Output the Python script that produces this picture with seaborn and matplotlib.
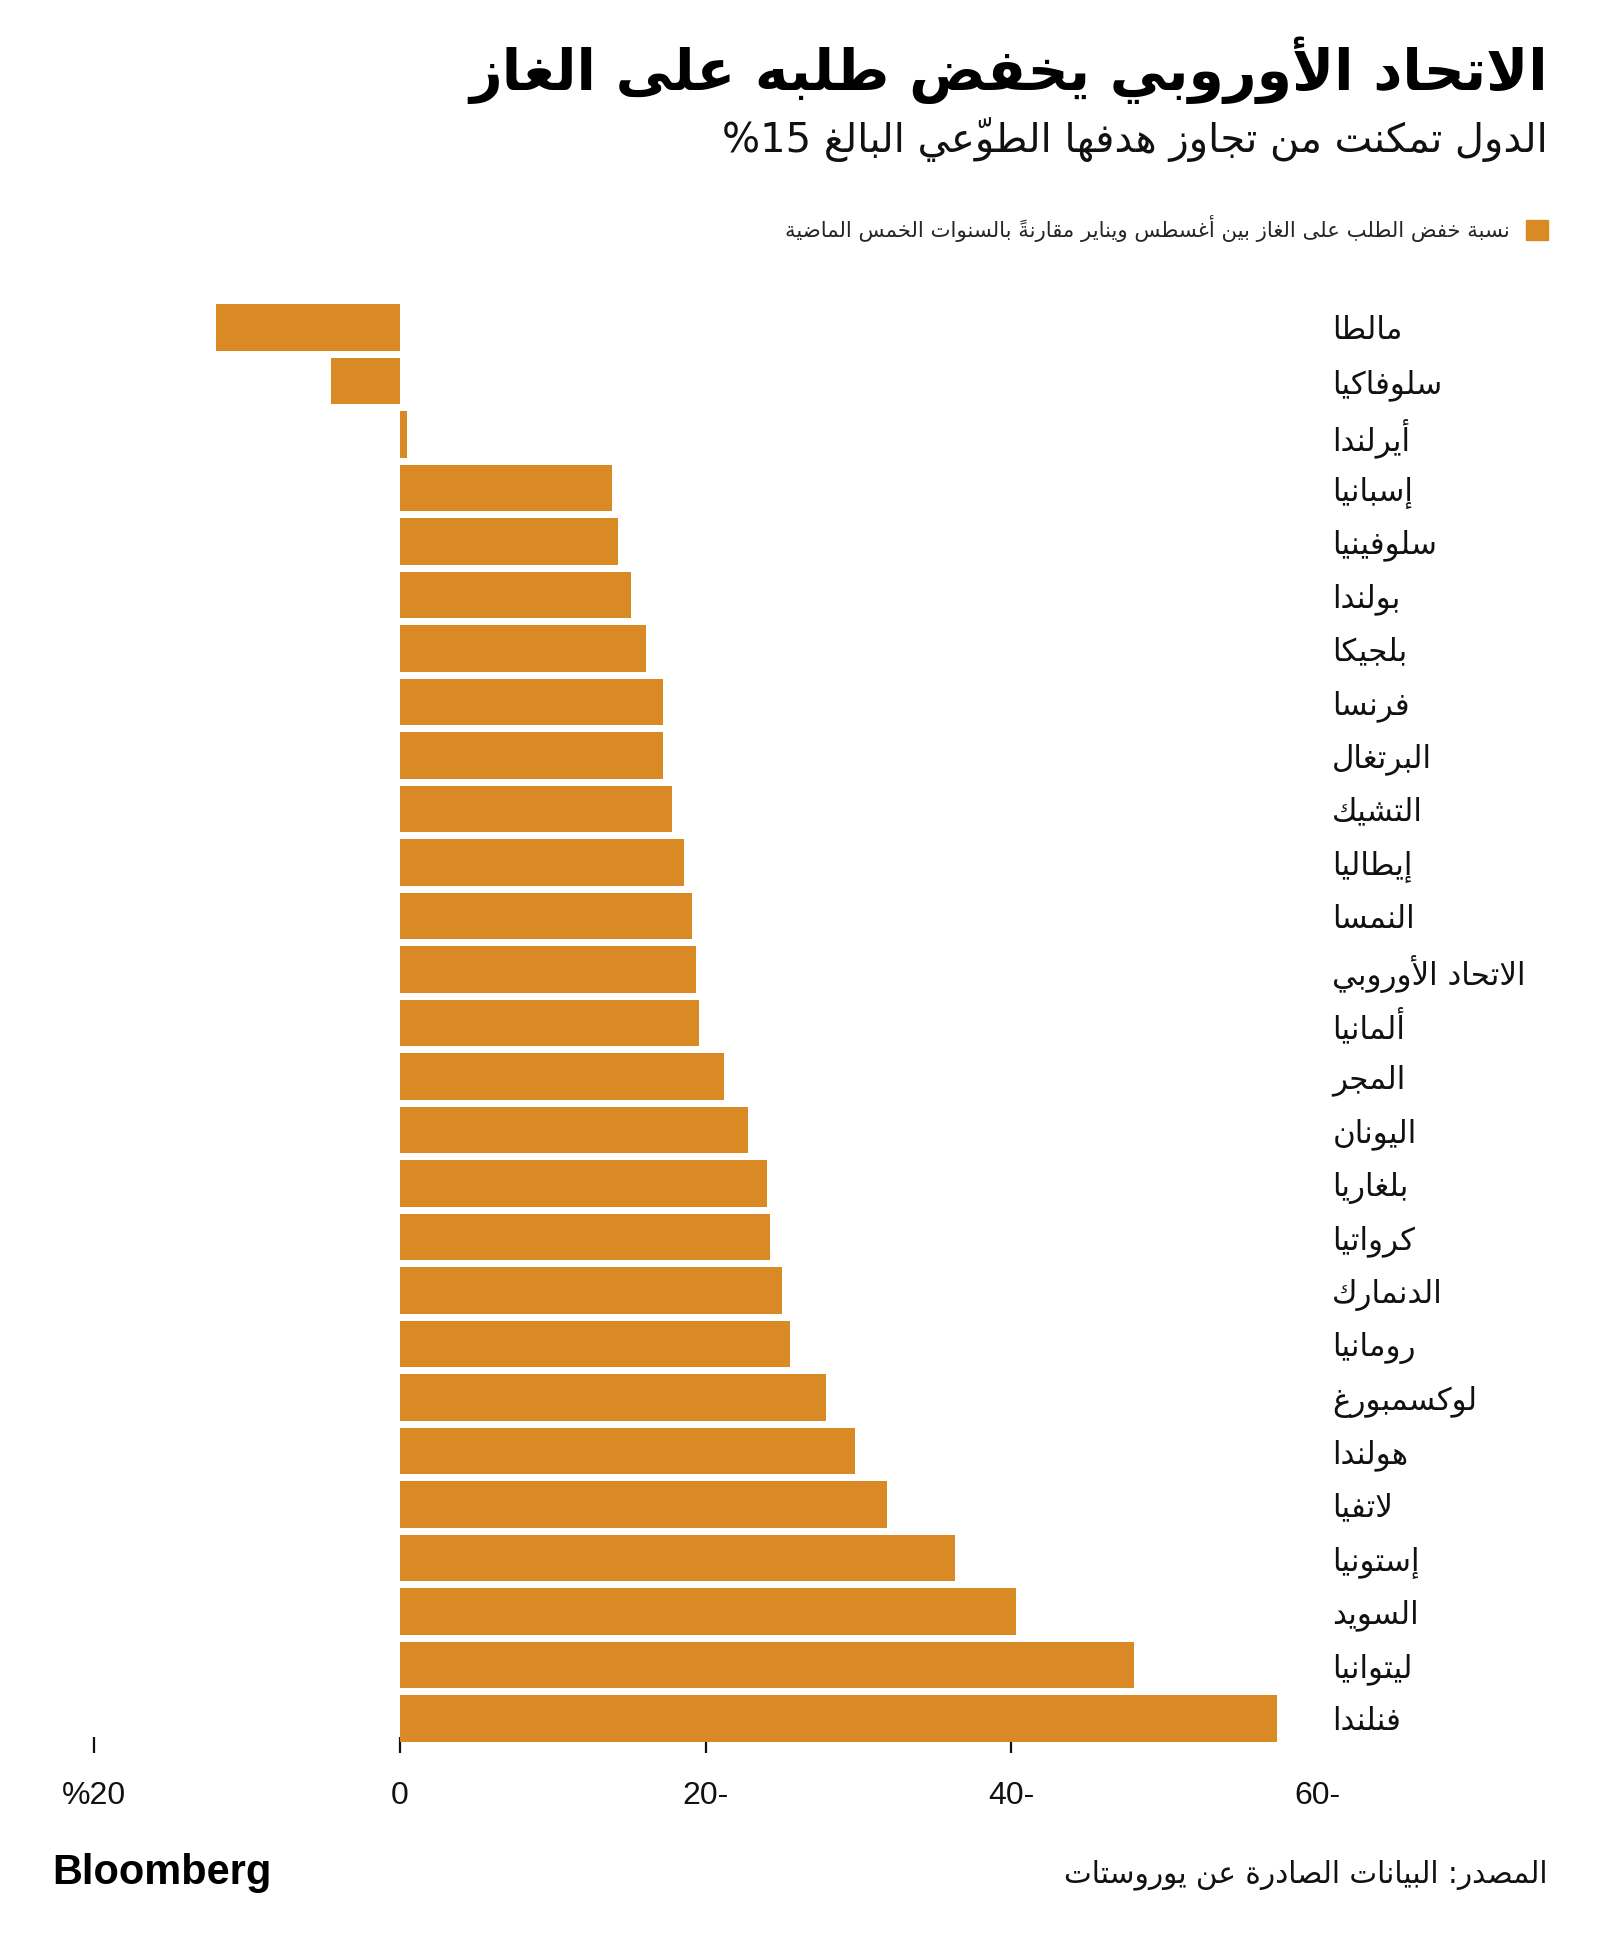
import unicodedata
import matplotlib
matplotlib.use("Agg")
import matplotlib.pyplot as plt
import matplotlib.patches as mpatches
import seaborn as sns
import pandas as pd

# Data: change in gas demand, Aug-Jan vs previous 5 years, %
countries = ["مالطا", "سلوفاكيا", "أيرلندا", "إسبانيا", "سلوفينيا", "بولندا", "بلجيكا",
             "فرنسا", "البرتغال", "التشيك", "إيطاليا", "النمسا", "الاتحاد الأوروبي",
             "ألمانيا", "المجر", "اليونان", "بلغاريا", "كرواتيا", "الدنمارك", "رومانيا",
             "لوكسمبورغ", "هولندا", "لاتفيا", "إستونيا", "السويد", "ليتوانيا", "فنلندا"]
change = [12.0, 4.5, -0.5, -13.9, -14.3, -15.1, -16.1, -17.2, -17.2, -17.8, -18.6,
          -19.1, -19.4, -19.6, -21.2, -22.8, -24.0, -24.2, -25.0, -25.5, -27.9, -29.8,
          -31.9, -36.3, -40.3, -48.0, -57.4]
xticks = [20, 0, -20, -40, -60]
xtick_labels = ["20%", "0", "-20", "-40", "-60"]

title = "الاتحاد الأوروبي يخفض طلبه على الغاز"
subtitle = "الدول تمكنت من تجاوز هدفها الطوّعي البالغ 15%"
legend_text = "نسبة خفض الطلب على الغاز بين أغسطس ويناير مقارنةً بالسنوات الخمس الماضية"
source = "المصدر: البيانات الصادرة عن يوروستات"

ORANGE = "#DA8A25"

# --- minimal Arabic shaping + right-to-left ordering (matplotlib does neither) ---
_letters = [("ء", 0xFE80, 1), ("آ", 0xFE81, 2), ("أ", 0xFE83, 2), ("ؤ", 0xFE85, 2),
            ("إ", 0xFE87, 2), ("ئ", 0xFE89, 4), ("ا", 0xFE8D, 2), ("ب", 0xFE8F, 4),
            ("ة", 0xFE93, 2), ("ت", 0xFE95, 4), ("ث", 0xFE99, 4), ("ج", 0xFE9D, 4),
            ("ح", 0xFEA1, 4), ("خ", 0xFEA5, 4), ("د", 0xFEA9, 2), ("ذ", 0xFEAB, 2),
            ("ر", 0xFEAD, 2), ("ز", 0xFEAF, 2), ("س", 0xFEB1, 4), ("ش", 0xFEB5, 4),
            ("ص", 0xFEB9, 4), ("ض", 0xFEBD, 4), ("ط", 0xFEC1, 4), ("ظ", 0xFEC5, 4),
            ("ع", 0xFEC9, 4), ("غ", 0xFECD, 4), ("ف", 0xFED1, 4), ("ق", 0xFED5, 4),
            ("ك", 0xFED9, 4), ("ل", 0xFEDD, 4), ("م", 0xFEE1, 4), ("ن", 0xFEE5, 4),
            ("ه", 0xFEE9, 4), ("و", 0xFEED, 2), ("ى", 0xFEEF, 2), ("ي", 0xFEF1, 4)]
FORMS = {ch: (start, k) for ch, start, k in _letters}
LAMALEF = {"آ": 0xFEF5, "أ": 0xFEF7, "إ": 0xFEF9, "ا": 0xFEFB}


def shape(s):
    cl = []
    for ch in s:
        if unicodedata.combining(ch) and cl:
            cl[-1][1] += ch
        else:
            cl.append([ch, ""])
    out = []
    prev_joins = False
    i = 0
    while i < len(cl):
        ch, marks = cl[i]
        nxt = cl[i + 1][0] if i + 1 < len(cl) else ""
        if ch not in FORMS:
            out.append(marks + ch)
            prev_joins = False
            i += 1
            continue
        if ch == "ل" and nxt in LAMALEF:
            out.append(marks + cl[i + 1][1] + chr(LAMALEF[nxt] + (1 if prev_joins else 0)))
            prev_joins = False
            i += 2
            continue
        start, k = FORMS[ch]
        joins_next = k == 4 and nxt in FORMS and FORMS[nxt][1] > 1
        if prev_joins and joins_next:
            f = 3
        elif prev_joins:
            f = 1
        elif joins_next:
            f = 2
        else:
            f = 0
        # mark goes before its base in visual (left-to-right) order
        out.append(marks + chr(start + f))
        prev_joins = joins_next
        i += 1
    return out


def rtl(s):
    out, run = [], []
    for c in reversed(shape(s)):
        if c.isdigit():
            run.append(c)
        else:
            out.extend(reversed(run))
            run = []
            out.append(c)
    out.extend(reversed(run))
    return "".join(out)


sns.set_style("white")
plt.rcParams["font.family"] = ["DejaVu Sans"]

W, H = 1600, 1953
fig = plt.figure(figsize=(W / 100, H / 100), dpi=100)
renderer = fig.canvas.get_renderer()


def size_for(s, width_px, **kw):
    t = fig.text(0, 0, s, fontsize=100, **kw)
    w = t.get_window_extent(renderer=renderer).width
    t.remove()
    return 100 * width_px / w


df = pd.DataFrame({"country": [rtl(c) for c in countries], "change": change})

# axes placed so that +20 sits at x=94px, -60 at x=1317px, rows 53.5px apart
ax = fig.add_axes([94 / W, 1 - 1745.25 / H, (1317 - 94) / W, (1745.25 - 300.75) / H])
sns.barplot(data=df, x="change", y="country", orient="h", color=ORANGE,
            saturation=1, width=0.87, linewidth=0, ax=ax)
ax.set_xlim(20, -60)
ax.set_ylim(len(countries) - 0.5, -0.5)
ax.set_axisbelow(True)
for sp in ax.spines.values():
    sp.set_visible(False)
ax.set_xlabel("")
ax.set_ylabel("")

ax.set_xticks(xticks)
ax.set_xticklabels([rtl(t) for t in xtick_labels],
                   family=["Liberation Sans Narrow", "Liberation Sans", "DejaVu Sans"])
ax.tick_params(axis="x", bottom=True, direction="inout", length=12, width=1.6,
               color="#111111", labelsize=23, pad=19.5, labelcolor="#111111")
# the last label has no tick mark in the original
ax.xaxis.get_major_ticks()[-1].tick1line.set_visible(False)

label_size = size_for(rtl("الاتحاد الأوروبي"), 194)
ax.yaxis.tick_right()
ax.tick_params(axis="y", length=0, pad=11, labelsize=label_size, labelcolor="#111111")

# header
fig.text(1548 / W, 1 - 90 / H, rtl(title), ha="right", va="baseline",
         fontsize=size_for(rtl(title), 1077, weight="bold"), weight="bold", color="black")
fig.text(1548 / W, 1 - 152 / H, rtl(subtitle), ha="right", va="baseline",
         fontsize=size_for(rtl(subtitle), 826), color="#111111")

leg_size = size_for(rtl(legend_text), 726)
leg_px = leg_size * 100 / 72
fig.legend(handles=[mpatches.Patch(color=ORANGE)], labels=[rtl(legend_text)],
           loc="center right", bbox_to_anchor=(1548 / W, 1 - 229 / H),
           markerfirst=False, frameon=False, fontsize=leg_size,
           handlelength=22 / leg_px, handleheight=22 / leg_px,
           handletextpad=16 / leg_px, borderpad=0, borderaxespad=0)

# footer
fig.text(1548 / W, 1 - 1882 / H, rtl(source), ha="right", va="baseline",
         fontsize=size_for(rtl(source), 484), color="#111111")
fig.text(52 / W, 1 - 1884 / H, "Bloomberg", ha="left", va="baseline",
         fontsize=size_for("Bloomberg", 219, weight="bold",
                           family=["Liberation Sans Narrow", "Liberation Sans"]),
         weight="bold", family=["Liberation Sans Narrow", "Liberation Sans"], color="black")

fig.savefig("out.png", dpi=100, facecolor="white")
